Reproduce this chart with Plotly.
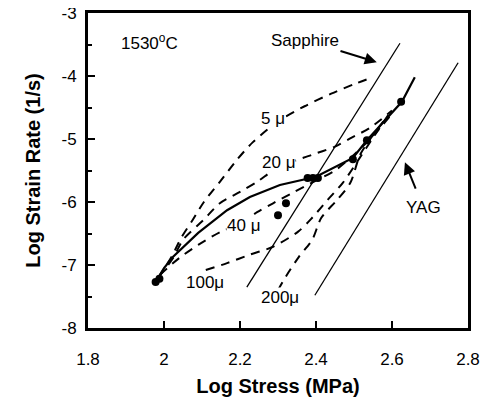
import plotly.graph_objects as go

# ---- data ----
fit_x = [1.98, 2.0, 2.024, 2.09, 2.166, 2.226, 2.305, 2.38, 2.40, 2.497, 2.534, 2.626, 2.66]
fit_y = [-7.25, -7.05, -6.87, -6.49, -6.13, -5.92, -5.73, -5.62, -5.60, -5.30, -5.02, -4.41, -4.02]

pts_x = [1.978, 1.988, 2.30, 2.321, 2.378, 2.392, 2.405, 2.497, 2.534, 2.624]
pts_y = [-7.27, -7.22, -6.21, -6.02, -5.62, -5.62, -5.62, -5.32, -5.02, -4.41]

sapphire_x = [2.218, 2.621]
sapphire_y = [-7.35, -3.48]
yag_x = [2.397, 2.774]
yag_y = [-7.48, -3.79]

d5_x = [1.985, 2.02, 2.045, 2.075, 2.105, 2.147, 2.192, 2.234, 2.30, 2.37, 2.44, 2.50, 2.545]
d5_y = [-7.2, -6.87, -6.57, -6.29, -6.0, -5.68, -5.33, -5.05, -4.72, -4.48, -4.28, -4.13, -4.03]

d20_x = [1.985, 2.024, 2.05, 2.103, 2.147, 2.20, 2.245, 2.30, 2.39, 2.45, 2.49, 2.54, 2.60]
d20_y = [-7.2, -6.89, -6.6, -6.29, -6.02, -5.84, -5.68, -5.45, -5.25, -5.12, -4.99, -4.83, -4.55]

d40_x = [1.99, 2.04, 2.09, 2.147, 2.205, 2.245, 2.287, 2.34, 2.40, 2.45, 2.50, 2.55, 2.60]
d40_y = [-7.15, -6.89, -6.68, -6.48, -6.33, -6.16, -6.02, -5.85, -5.66, -5.50, -5.25, -4.95, -4.60]

d100_x = [2.11, 2.166, 2.224, 2.287, 2.353, 2.39, 2.43, 2.47, 2.515, 2.55, 2.59]
d100_y = [-7.08, -6.97, -6.84, -6.71, -6.47, -6.25, -5.97, -5.70, -5.30, -4.98, -4.62]

d200_x = [2.30, 2.32, 2.355, 2.39, 2.414, 2.455, 2.49, 2.516, 2.545, 2.58]
d200_y = [-7.40, -7.19, -6.87, -6.60, -6.25, -5.97, -5.70, -5.25, -4.98, -4.70]

x_ticks = [1.8, 2.0, 2.2, 2.4, 2.6, 2.8]
x_ticktext = ["1.8", "2", "2.2", "2.4", "2.6", "2.8"]
y_ticks = [-8, -7, -6, -5, -4, -3]
y_ticktext = ["-8", "-7", "-6", "-5", "-4", "-3"]

grain_labels = ["5 \u03bc", "20 \u03bc", "40 \u03bc", "100\u03bc", "200\u03bc"]
grain_lx = [2.287, 2.30, 2.21, 2.107, 2.305]
grain_ly = [-4.67, -5.37, -6.37, -7.27, -7.51]

FONT = "Liberation Sans, Arial, Helvetica, sans-serif"

fig = go.Figure()

dash_style = dict(color="black", width=2, dash="9px,7px")
for dx, dy in [(d5_x, d5_y), (d20_x, d20_y), (d40_x, d40_y), (d100_x, d100_y), (d200_x, d200_y)]:
    fig.add_trace(go.Scatter(x=dx, y=dy, mode="lines", line=dict(dash_style, shape="spline", smoothing=0.8),
                             showlegend=False, hoverinfo="skip"))

fig.add_trace(go.Scatter(x=sapphire_x, y=sapphire_y, mode="lines",
                         line=dict(color="black", width=1.3), showlegend=False))
fig.add_trace(go.Scatter(x=yag_x, y=yag_y, mode="lines",
                         line=dict(color="black", width=1.3), showlegend=False))
fig.add_trace(go.Scatter(x=fit_x, y=fit_y, mode="lines",
                         line=dict(color="black", width=2.2), showlegend=False))
fig.add_trace(go.Scatter(x=pts_x, y=pts_y, mode="markers",
                         marker=dict(color="black", size=8), showlegend=False))

annotations = []
for t, lx, ly in zip(grain_labels, grain_lx, grain_ly):
    annotations.append(dict(x=lx, y=ly, text=t, showarrow=False, bgcolor="white",
                            font=dict(size=17, color="black", family=FONT), borderpad=0))
annotations.append(dict(x=1.963, y=-3.46, text="1530<sup>o</sup>C", showarrow=False,
                        font=dict(size=17, color="black", family=FONT)))
annotations.append(dict(x=2.56, y=-3.78, ax=2.371, ay=-3.43, axref="x", ayref="y",
                        text="Sapphire", showarrow=True, arrowhead=2, arrowsize=1.2, arrowwidth=2,
                        arrowcolor="black", font=dict(size=17, color="black", family=FONT)))
annotations.append(dict(x=2.634, y=-5.37, ax=2.682, ay=-6.08, axref="x", ayref="y",
                        text="YAG", showarrow=True, arrowhead=2, arrowsize=1.2, arrowwidth=2,
                        arrowcolor="black", startstandoff=8,
                        font=dict(size=17, color="black", family=FONT)))

# the page body has an 8px default margin, so the figure is sized to fit inside it
fig.update_layout(
    width=482, height=398,
    margin=dict(l=80, r=22, t=5, b=78),
    plot_bgcolor="white", paper_bgcolor="white",
    font=dict(family=FONT, color="black", size=16),
    annotations=annotations,
    showlegend=False,
)
fig.update_xaxes(
    range=[1.8, 2.8], tickvals=x_ticks, ticktext=x_ticktext, automargin=False,
    ticks="inside", ticklen=7, tickwidth=2, tickcolor="black",
    showline=True, linewidth=3, linecolor="black", mirror=True,
    showgrid=False, zeroline=False, ticklabelstandoff=14, ticklabeloverflow="allow",
    tickfont=dict(size=17),
    title=dict(text="<b>Log Stress (MPa)</b>", font=dict(size=20), standoff=11),
)
fig.update_yaxes(
    range=[-8, -3], tickvals=y_ticks, ticktext=y_ticktext, automargin=False,
    ticks="inside", ticklen=7, tickwidth=2, tickcolor="black",
    minor=dict(dtick=0.5, ticks="inside", ticklen=4, tickwidth=2, tickcolor="black"),
    showline=True, linewidth=3, linecolor="black", mirror=True,
    showgrid=False, zeroline=False, ticklabelstandoff=5, ticklabeloverflow="allow",
    tickfont=dict(size=17),
    title=dict(text="<b>Log Strain Rate (1/s)</b>", font=dict(size=20), standoff=16),
)

fig.write_html("out.html")
